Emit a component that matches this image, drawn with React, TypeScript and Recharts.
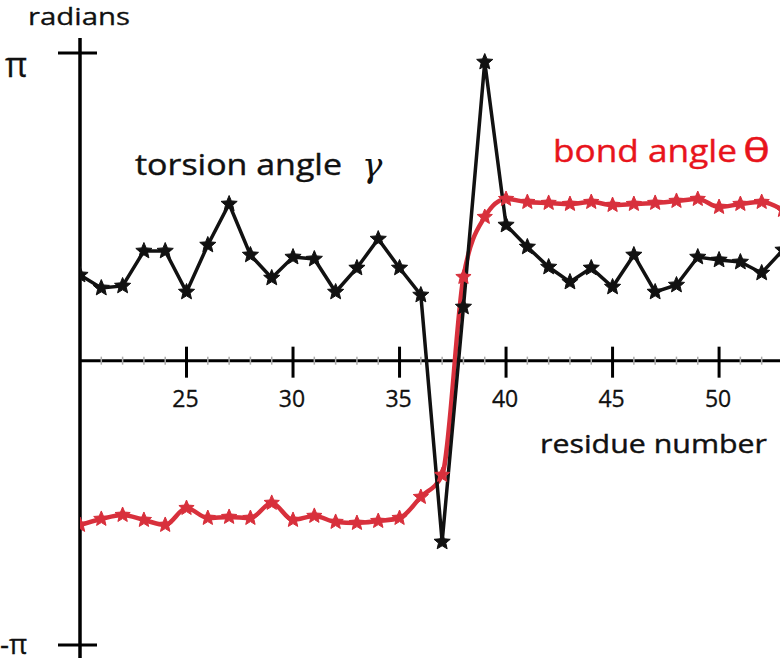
import React from 'react';
import { LineChart, Line, XAxis, YAxis, ReferenceLine, ReferenceDot } from 'recharts';

const residues = [20, 21, 22, 23, 24, 25, 26, 27, 28, 29, 30, 31, 32, 33, 34, 35, 36, 37, 38, 39, 40, 41, 42, 43, 44, 45, 46, 47, 48, 49, 50, 51, 52, 53];
// torsion angle gamma (radians)
const torsionAngle = [0.785, 0.647, 0.669, 1.04, 1.04, 0.605, 1.104, 1.539, 0.998, 0.754, 0.976, 0.955, 0.605, 0.86, 1.167, 0.86, 0.573, -2.048, 0.446, 3.046, 1.316, 1.083, 0.87, 0.711, 0.86, 0.658, 0.998, 0.605, 0.679, 0.976, 0.945, 0.923, 0.807, 1.051];
// bond angle theta (radians)
const bondAngle = [-1.868, -1.804, -1.762, -1.815, -1.868, -1.688, -1.794, -1.783, -1.794, -1.634, -1.815, -1.772, -1.836, -1.847, -1.826, -1.794, -1.571, -1.337, 0.764, 1.401, 1.592, 1.56, 1.55, 1.539, 1.56, 1.528, 1.539, 1.55, 1.571, 1.592, 1.507, 1.539, 1.56, 1.475];

const majorTicks = [25, 30, 35, 40, 45, 50];
const minorTicks = [21, 22, 23, 24, 26, 27, 28, 29, 31, 32, 33, 34, 36, 37, 38, 39, 41, 42, 43, 44, 46, 47, 48, 49, 51, 52];
const yTicks = [Math.PI, -Math.PI];
const yTickLabels = ['π', '-π'];

const X_AXIS_LEVEL = -0.124;

const data = residues.map((r, i) => ({ res: r, torsion: torsionAngle[i], bond: bondAngle[i] }));

function starPath(cx: number, cy: number, R: number): string {
  const r = R * 0.45;
  const pts: string[] = [];
  for (let k = 0; k < 10; k++) {
    const rad = k % 2 === 0 ? R : r;
    const a = -Math.PI / 2 + (k * Math.PI) / 5;
    pts.push(`${(cx + rad * Math.cos(a)).toFixed(2)},${(cy + rad * Math.sin(a)).toFixed(2)}`);
  }
  return 'M' + pts.join('L') + 'Z';
}

const makeDot = (color: string, prefix: string, R: number) => (p: any) => {
  if (p.cx == null || p.cy == null) return <g key={`${prefix}${p.index}`} />;
  return <path key={`${prefix}${p.index}`} d={starPath(p.cx, p.cy, R)} fill={color} stroke={color} strokeWidth={1} strokeLinejoin="round" />;
};

const FONT = '"Open Sans", sans-serif';

export default function App() {
  return (
    <div style={{ position: 'absolute', left: 0, top: 0, width: 780, height: 663, background: '#fff' }}>
      <LineChart width={780} height={663} data={data} margin={{ top: 38, right: 0, bottom: 5, left: 80 }}>
        <XAxis dataKey="res" type="number" domain={[20, 52.86]} allowDataOverflow hide />
        <YAxis type="number" domain={[-3.28, 3.301]} allowDataOverflow hide />
        <ReferenceLine x={20} stroke="#000" strokeWidth={3.5} />
        <ReferenceLine y={X_AXIS_LEVEL} stroke="#000" strokeWidth={3} />
        {minorTicks.map((t) => (
          <ReferenceDot
            key={`mn${t}`}
            x={t}
            y={X_AXIS_LEVEL}
            r={0}
            shape={(p: any) => <line x1={p.cx} x2={p.cx} y1={p.cy - 4} y2={p.cy + 4} stroke="#aaa" strokeWidth={1.5} />}
          />
        ))}
        {majorTicks.map((t) => (
          <ReferenceDot
            key={`mj${t}`}
            x={t}
            y={X_AXIS_LEVEL}
            r={0}
            shape={(p: any) => (
              <g>
                <line x1={p.cx} x2={p.cx} y1={p.cy - 14} y2={p.cy + 17} stroke="#000" strokeWidth={3} />
                <text x={p.cx - 1} y={p.cy + 46} textAnchor="middle" fontFamily={FONT} fontSize={23} fill="#111" stroke="#111" strokeWidth={0.3}>{t}</text>
              </g>
            )}
          />
        ))}
        {yTicks.map((v, i) => (
          <ReferenceDot
            key={`yt${i}`}
            x={20}
            y={v}
            r={0}
            shape={(p: any) => (
              <g>
                <line x1={p.cx - 22} x2={p.cx + 17} y1={p.cy} y2={p.cy} stroke="#000" strokeWidth={3} />
                <text
                  x={i === 0 ? 5 : 0}
                  y={i === 0 ? p.cy + 24 : p.cy + 9}
                  fontFamily={FONT}
                  fontSize={i === 0 ? 34 : 28}
                  fill="#111"
                  stroke="#111"
                  strokeWidth={0.3}
                >
                  {yTickLabels[i]}
                </text>
              </g>
            )}
          />
        ))}
        <Line
          dataKey="bond"
          type="monotone"
          stroke="#d8303c"
          strokeWidth={4.5}
          dot={makeDot('#d8303c', 'b', 8)}
          isAnimationActive={false}
        />
        <Line
          dataKey="torsion"
          type="linear"
          stroke="#111"
          strokeWidth={3.5}
          dot={makeDot('#111', 't', 8.5)}
          isAnimationActive={false}
        />
      </LineChart>
      <svg width={780} height={663} style={{ position: 'absolute', left: 0, top: 0, pointerEvents: 'none' }}>
        <text x={28} y={25} fontFamily={FONT} fontSize={23} fill="#111" stroke="#111" strokeWidth={0.3} textLength={102} lengthAdjust="spacingAndGlyphs">radians</text>
        <text x={135} y={175} fontFamily={FONT} fontSize={29} fill="#111" stroke="#111" strokeWidth={0.4} textLength={207} lengthAdjust="spacingAndGlyphs">torsion angle</text>
        <text x={362} y={177} fontFamily='"DejaVu Serif", serif' fontStyle="italic" fontSize={34} fill="#111">γ</text>
        <text x={553} y={162} fontFamily={FONT} fontSize={31} fill="#e8141c" stroke="#e8141c" strokeWidth={0.4} textLength={184} lengthAdjust="spacingAndGlyphs">bond angle</text>
        <text x={743} y={162} fontFamily={FONT} fontSize={32} fill="#e8141c" stroke="#e8141c" strokeWidth={0.4} textLength={27} lengthAdjust="spacingAndGlyphs">θ</text>
        <text x={540} y={453} fontFamily={FONT} fontSize={26} fill="#111" stroke="#111" strokeWidth={0.4} textLength={227} lengthAdjust="spacingAndGlyphs">residue number</text>
      </svg>
    </div>
  );
}
